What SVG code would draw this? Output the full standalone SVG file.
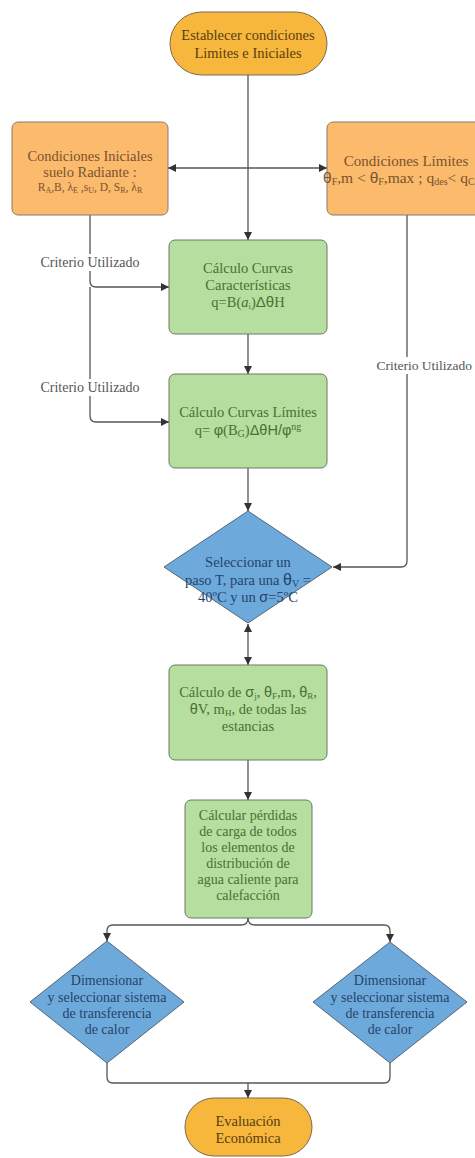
<svg xmlns="http://www.w3.org/2000/svg" width="475" height="1158" viewBox="0 0 475 1158">
<defs>
<marker id="ah" viewBox="0 0 10 10" refX="10" refY="5" markerWidth="8" markerHeight="9" orient="auto-start-reverse" markerUnits="userSpaceOnUse">
<path d="M0,0 L10,5 L0,10 z" fill="#333"/>
</marker>
<style>
.t{font-family:"Liberation Serif","DejaVu Serif",serif;text-anchor:middle}
.term{fill:#F6B73C;stroke:#7a6a4a;stroke-width:1}
.org{fill:#FBBA6C;stroke:#8a7a6a;stroke-width:1}
.grn{fill:#B6DE9E;stroke:#6a7a66;stroke-width:1}
.blu{fill:#6EA9DC;stroke:#556677;stroke-width:1}
.tt{fill:#5a3d12;font-size:14.5px}
.to{fill:#7a5330;font-size:14.5px}
.tg{fill:#4b7036;font-size:14.5px}
.tb{fill:#24446a;font-size:14.5px}
.c{fill:none;stroke:#555;stroke-width:1.3}
.lbl{fill:#555;font-size:14px}
.g{font-family:"Liberation Sans","DejaVu Sans",sans-serif}
</style>
</defs>
<rect width="475" height="1158" fill="#fff"/>
<g id="connectors">
<path class="c" d="M248,75 V240" marker-end="url(#ah)"/>
<path class="c" d="M248,168 H168" marker-end="url(#ah)"/>
<path class="c" d="M248,168 H327" marker-end="url(#ah)"/>
<path class="c" d="M248,334 V374" marker-end="url(#ah)"/>
<path class="c" d="M90,215 V281 Q90,287 96,287 H169" marker-end="url(#ah)"/>
<path class="c" d="M90,287 V416 Q90,422 96,422 H169" marker-end="url(#ah)"/>
<path class="c" d="M407,215 V561 Q407,567 401,567 H333" marker-end="url(#ah)"/>
<path class="c" d="M248,468 V511" marker-end="url(#ah)"/>
<path class="c" d="M248,624 V665" marker-start="url(#ah)" marker-end="url(#ah)"/>
<path class="c" d="M248,760 V800" marker-end="url(#ah)"/>
<path class="c" d="M248,918 Q248,925 241,925 H113 Q107,925 107,931 V941" marker-end="url(#ah)"/>
<path class="c" d="M248,918 Q248,925 255,925 H384 Q390,925 390,931 V942" marker-end="url(#ah)"/>
<path class="c" d="M107,1063 V1077 Q107,1083 113,1083 H384 Q390,1083 390,1077 V1063"/>
<path class="c" d="M248,1083 V1098" marker-end="url(#ah)"/>
<rect x="37" y="254" width="106" height="17" fill="#fff"/>
<text class="t lbl" x="90" y="267">Criterio Utilizado</text>
<rect x="37" y="379" width="106" height="17" fill="#fff"/>
<text class="t lbl" x="90" y="392">Criterio Utilizado</text>
<rect x="374" y="357" width="101" height="17" fill="#fff"/>
<text class="lbl" style="font-family:'Liberation Serif',serif;text-anchor:end;font-size:13.5px" x="472" y="370">Criterio Utilizado</text>
</g>
<g id="start">
<rect class="term" x="170" y="12" width="157" height="63" rx="31.5"/>
<text class="t tt" x="248" y="40">Establecer condiciones</text>
<text class="t tt" x="248" y="58">Limites e Iniciales</text>
</g>
<g id="cond-iniciales">
<rect class="org" x="12" y="122" width="156" height="93" rx="6"/>
<text class="t to" x="90" y="161">Condiciones Iniciales</text>
<text class="t to" x="90" y="177">suelo Radiante :</text>
<text class="t to" x="90" y="191" style="font-size:11.5px">R<tspan font-size="8" dy="2">A</tspan><tspan dy="-2">,B, λ</tspan><tspan font-size="8" dy="2">E</tspan><tspan dy="-2"> ,s</tspan><tspan font-size="8" dy="2">U</tspan><tspan dy="-2">, D, S</tspan><tspan font-size="8" dy="2">R</tspan><tspan dy="-2">, λ</tspan><tspan font-size="8" dy="2">R</tspan></text>
</g>
<g id="cond-limites">
<rect class="org" x="327" y="122" width="170" height="93" rx="6"/>
<text class="t to" x="406" y="166" style="font-size:15px">Condiciones Límites</text>
<text class="to" style="font-family:'Liberation Serif',serif;font-size:15.5px" x="323" y="183"><tspan class="g">θ</tspan><tspan font-size="10" dy="2">F</tspan><tspan dy="-2">,m &lt; </tspan><tspan class="g">θ</tspan><tspan font-size="10" dy="2">F</tspan><tspan dy="-2">,max ; q</tspan><tspan font-size="10" dy="2">des</tspan><tspan dy="-2">&lt; q</tspan><tspan font-size="10" dy="2">C</tspan></text>
</g>
<g id="curvas-caract">
<rect class="grn" x="169" y="240" width="158" height="94" rx="6"/>
<text class="t tg" x="248" y="273">Cálculo Curvas</text>
<text class="t tg" x="248" y="290">Características</text>
<text class="t tg" x="248" y="307">q=B(<tspan font-style="italic">a</tspan><tspan font-size="9" dy="2">i</tspan><tspan dy="-2">)</tspan><tspan class="g" font-size="15">Δθ</tspan>H</text>
</g>
<g id="curvas-limites">
<rect class="grn" x="169" y="374" width="158" height="94" rx="6"/>
<text class="t tg" x="248" y="417">Cálculo Curvas Límites</text>
<text class="t tg" x="248" y="435">q= <tspan class="g">φ</tspan>(B<tspan font-size="10" dy="2">G</tspan><tspan dy="-2">)</tspan><tspan class="g">ΔθH/φ</tspan><tspan font-size="10" dy="-5">ng</tspan></text>
</g>
<g id="seleccionar">
<path class="blu" d="M248,511 L332,567 L248,623 L164,567 Z" stroke-linejoin="round"/>
<text class="t tb" x="248" y="567">Seleccionar un</text>
<text class="t tb" x="248" y="585">paso T, para una <tspan class="g" font-size="16">θ</tspan><tspan font-size="10" dy="2">V</tspan><tspan dy="-2"> =</tspan></text>
<text class="t tb" x="248" y="602">40ºC y un <tspan class="g">σ</tspan>=5ºC</text>
</g>
<g id="calculo-sigma">
<rect class="grn" x="169" y="665" width="158" height="95" rx="6"/>
<text class="t tg" x="248" y="697">Cálculo de <tspan class="g">σ</tspan><tspan font-size="9" dy="2">j</tspan><tspan dy="-2">, </tspan><tspan class="g">θ</tspan><tspan font-size="9" dy="2">F</tspan><tspan dy="-2">,m, </tspan><tspan class="g">θ</tspan><tspan font-size="9" dy="2">R</tspan><tspan dy="-2">,</tspan></text>
<text class="t tg" x="248" y="714" fill="#2e4a20"><tspan class="g">θ</tspan>V, m<tspan font-size="9" dy="2">H</tspan><tspan dy="-2">, de todas las</tspan></text>
<text class="t tg" x="248" y="731">estancias</text>
</g>
<g id="perdidas">
<rect class="grn" x="185" y="800" width="127" height="118" rx="6"/>
<text class="t tg" x="248" y="820" style="font-size:14px">Cálcular pérdidas</text>
<text class="t tg" x="248" y="836" style="font-size:14px">de carga de todos</text>
<text class="t tg" x="248" y="852" style="font-size:14px">los elementos de</text>
<text class="t tg" x="248" y="868" style="font-size:14px">distribución de</text>
<text class="t tg" x="248" y="884" style="font-size:14px">agua caliente para</text>
<text class="t tg" x="248" y="900" style="font-size:14px">calefacción</text>
</g>
<g id="dimensionar-1">
<path class="blu" d="M107,941 L184,1002 L107,1063 L30,1002 Z" stroke-linejoin="round"/>
<text class="t tb" x="107" y="985" style="font-size:14px">Dimensionar</text>
<text class="t tb" x="107" y="1002" style="font-size:14px">y seleccionar sistema</text>
<text class="t tb" x="107" y="1018" style="font-size:14px">de transferencia</text>
<text class="t tb" x="107" y="1034" style="font-size:14px">de calor</text>
</g>
<g id="dimensionar-2">
<path class="blu" d="M390,942 L467,1002 L390,1063 L313,1002 Z" stroke-linejoin="round"/>
<text class="t tb" x="390" y="985" style="font-size:14px">Dimensionar</text>
<text class="t tb" x="390" y="1002" style="font-size:14px">y seleccionar sistema</text>
<text class="t tb" x="390" y="1018" style="font-size:14px">de transferencia</text>
<text class="t tb" x="390" y="1034" style="font-size:14px">de calor</text>
</g>
<g id="evaluacion">
<rect class="term" x="185" y="1098" width="127" height="58" rx="29"/>
<text class="t tt" x="248" y="1126">Evaluación</text>
<text class="t tt" x="248" y="1143">Económica</text>
</g>
</svg>
